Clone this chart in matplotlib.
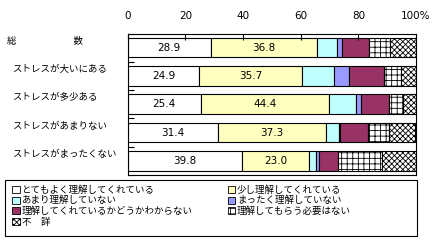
import numpy as np
import matplotlib
matplotlib.use('Agg')
import matplotlib.pyplot as plt
from matplotlib.patches import Patch, Rectangle
from matplotlib.transforms import blended_transform_factory

plt.rcParams['font.family'] = ['Noto Sans CJK JP', 'DejaVu Sans']
plt.rcParams['hatch.linewidth'] = 0.6

# categories (top to bottom)
cats = ['総　　　　　　数', 'ストレスが大いにある', 'ストレスが多少ある',
        'ストレスがあまりない', 'ストレスがまったくない']

# series values (%)
very_well   = [28.9, 24.9, 25.4, 31.4, 39.8]
a_little    = [36.8, 35.7, 44.4, 37.3, 23.0]
not_much    = [6.8, 11.1, 9.5, 4.7, 2.6]
not_at_all  = [1.7, 5.2, 1.5, 0.4, 1.0]
dont_know   = [9.6, 12.0, 9.9, 9.4, 6.6]
no_need     = [7.3, 5.8, 4.7, 7.6, 15.1]
unknown     = [8.9, 5.3, 4.6, 8.9, 11.9]

series_names = ['とてもよく理解してくれている', '少し理解してくれている',
                'あまり理解していない', 'まったく理解していない',
                '理解してくれているかどうかわからない', '理解してもらう必要はない',
                '不　詳']
series = [very_well, a_little, not_much, not_at_all, dont_know, no_need, unknown]
faces = ['white', '#ffffc0', '#c0ffff', '#9999ff', '#993366', 'white', 'white']
hatches = [None, None, None, None, None, '+++', 'xxxxxx']

fig = plt.figure(figsize=(4.35, 2.46), dpi=100)
ax = fig.add_axes([0.2936, 0.2886, 0.6627, 0.5752])

y = np.arange(len(cats))
left = np.zeros(len(cats))
for vals, fc, h in zip(series, faces, hatches):
    vals = np.array(vals)
    ax.barh(y, vals, left=left, height=0.69, color=fc, edgecolor='black',
            linewidth=0.8, hatch=h)
    left += vals

# value labels on first two series
left = np.zeros(len(cats))
for vals in series[:2]:
    vals = np.array(vals)
    for yi, l, v in zip(y, left, vals):
        ax.text(l + v / 2, yi, f'{v:.1f}', ha='center', va='center',
                fontsize=7.5, family='DejaVu Sans')
    left += vals

ax.set_xlim(0, 100)
ax.set_ylim(len(cats) - 0.5, -0.5)
ax.xaxis.tick_top()
ax.set_xticks([0, 20, 40, 60, 80, 100])
ax.set_xticklabels(['0', '20', '40', '60', '80', '100%'], family='DejaVu Sans')
ax.tick_params(axis='x', direction='in', length=4, width=0.8, labelsize=7.5, pad=9)
ax.set_yticks(np.arange(len(cats) + 1) - 0.5)
ax.set_yticklabels([])
ax.tick_params(axis='y', direction='in', length=4, width=0.8)
for s in ax.spines.values():
    s.set_linewidth(0.8)

# category labels at the left
tr = blended_transform_factory(fig.transFigure, ax.transData)
for i, c in enumerate(cats):
    x0 = 0.016 if i == 0 else 0.028
    ax.text(x0, i - 0.22, c, transform=tr, ha='left', va='center', fontsize=6.8)

# legend box
fig.patches.append(Rectangle((0.0115, 0.04), 0.947, 0.228, transform=fig.transFigure,
                             facecolor='none', edgecolor='black', linewidth=0.8))

# legend in row-major order
handles = [Patch(facecolor=fc, edgecolor='black', hatch=h, linewidth=0.6)
           for fc, h in zip(faces, hatches)]
order = [0, 2, 4, 6, 1, 3, 5]
leg = fig.legend([handles[i] for i in order], [series_names[i] for i in order],
                 ncol=2, loc='upper left', bbox_to_anchor=(0.028, 0.247),
                 fontsize=6.8, frameon=False,
                 handlelength=0.8, handleheight=0.8, handletextpad=0.2,
                 labelspacing=0.12, borderpad=0.0, columnspacing=3.7,
                 borderaxespad=0)

fig.savefig('out.png', dpi=100)
